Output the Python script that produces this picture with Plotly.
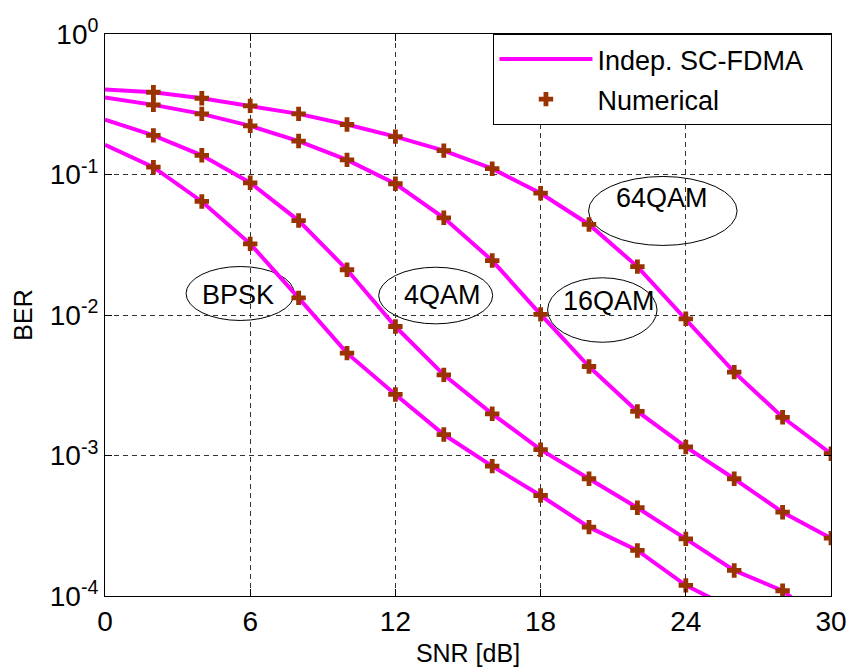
import plotly.graph_objects as go

# ---- data ----
snr = [0, 2, 4, 6, 8, 10, 12, 14, 16, 18, 20, 22, 24, 26, 28, 30]

ber_bpsk = [0.163, 0.1127, 0.0643, 0.0321, 0.01325, 0.00535, 0.00272, 0.00141,
            0.00084, 0.000519, 0.000309, 0.000211, 0.000119, 0.00008, None, None]
ber_4qam = [0.246, 0.190, 0.137, 0.0873, 0.0470, 0.0210, 0.00828, 0.00375,
            0.00198, 0.00110, 0.000683, 0.000425, 0.000255, 0.000152, 0.000109, 0.00006]
ber_16qam = [0.353, 0.313, 0.270, 0.222, 0.173, 0.127, 0.0859, 0.0492,
             0.0244, 0.0101, 0.00430, 0.00206, 0.00115, 0.000683, 0.000395, 0.000258]
ber_64qam = [0.403, 0.385, 0.349, 0.308, 0.270, 0.227, 0.186, 0.148,
             0.110, 0.0736, 0.0441, 0.0221, 0.0094, 0.00392, 0.00187, 0.00103]

x_ticks = [0, 6, 12, 18, 24, 30]
y_ticks = [1e-4, 1e-3, 1e-2, 1e-1, 1]
y_ticktext = ["10<sup>-4</sup>", "10<sup>-3</sup>", "10<sup>-2</sup>", "10<sup>-1</sup>", "10<sup>0</sup>"]

series_names = ["Indep. SC-FDMA", "Numerical"]

# modulation labels (text) and their ellipse extents (x in dB, y in log10 BER)
mod_labels = ["BPSK", "4QAM", "16QAM", "64QAM"]
label_x = [5.5, 13.96, 20.83, 23.02]
label_y = [-1.86, -1.86, -1.90, -1.17]
ellipse_x0 = [3.35, 11.31, 18.29, 19.98]
ellipse_x1 = [7.82, 16.02, 22.81, 26.12]
ellipse_y0 = [-1.655, -1.660, -1.735, -1.014]
ellipse_y1 = [-2.039, -2.063, -2.194, -1.505]

curves = [ber_bpsk, ber_4qam, ber_16qam, ber_64qam]

LINE_COLOR = "#FF00FF"
MARKER_COLOR = "#993300"
FONT = "Liberation Sans, Arial, Helvetica, sans-serif"
Y_LOG_MIN, Y_LOG_MAX = -4, 0

fig = go.Figure()
for i, c in enumerate(curves):
    fig.add_trace(go.Scatter(
        x=snr, y=c, mode="lines",
        line=dict(color=LINE_COLOR, width=4),
        name=series_names[0] + "\u00a0\u00a0\u00a0", legendgroup="theory",
        showlegend=(i == 0), connectgaps=False))
for i, c in enumerate(curves):
    fig.add_trace(go.Scatter(
        x=snr[1:], y=c[1:], mode="markers",
        marker=dict(symbol="cross", size=12, color=MARKER_COLOR,
                    line=dict(width=0)),
        name=series_names[1], legendgroup="sim", showlegend=(i == 0)))


def to_domain(v):
    return (v - Y_LOG_MIN) / (Y_LOG_MAX - Y_LOG_MIN)


for k in range(len(mod_labels)):
    fig.add_shape(type="circle", xref="x", yref="y domain",
                  x0=ellipse_x0[k], x1=ellipse_x1[k],
                  y0=to_domain(ellipse_y0[k]), y1=to_domain(ellipse_y1[k]),
                  line=dict(color="black", width=1),
                  fillcolor="white", layer="below")
    fig.add_annotation(x=label_x[k], y=label_y[k], xref="x", yref="y",
                       text=mod_labels[k], showarrow=False,
                       font=dict(size=27, color="black", family=FONT))

fig.update_layout(
    width=849, height=668,
    margin=dict(l=105, r=18, t=34, b=72, autoexpand=False),
    plot_bgcolor="white", paper_bgcolor="white",
    font=dict(family=FONT, size=28, color="black"),
    showlegend=True,
    legend=dict(x=1.002, y=1, xanchor="right", yanchor="top",
                bordercolor="black", borderwidth=1, bgcolor="white",
                font=dict(size=27, family=FONT), itemwidth=93,
                tracegroupgap=2),
)
fig.update_xaxes(
    range=[0, 30], tickvals=x_ticks, ticks="inside", ticklen=7,
    tickcolor="black", showline=True, linecolor="black", linewidth=1,
    mirror="allticks", showgrid=True, gridcolor="#333333", gridwidth=1,
    griddash="5px,4px", zeroline=False, automargin=False,
    tickfont=dict(size=28),
    title=dict(text="SNR [dB]", font=dict(size=25), standoff=8))
fig.update_yaxes(
    type="log", range=[Y_LOG_MIN, Y_LOG_MAX], tickvals=y_ticks, ticktext=y_ticktext,
    ticks="inside", ticklen=7, tickcolor="black", showline=True,
    linecolor="black", linewidth=1, mirror="allticks", showgrid=True,
    gridcolor="#333333", gridwidth=1, griddash="5px,4px", zeroline=False,
    automargin=False,
    tickfont=dict(size=28),
    title=dict(text="BER", font=dict(size=25), standoff=10))

fig.write_html("out.html")
